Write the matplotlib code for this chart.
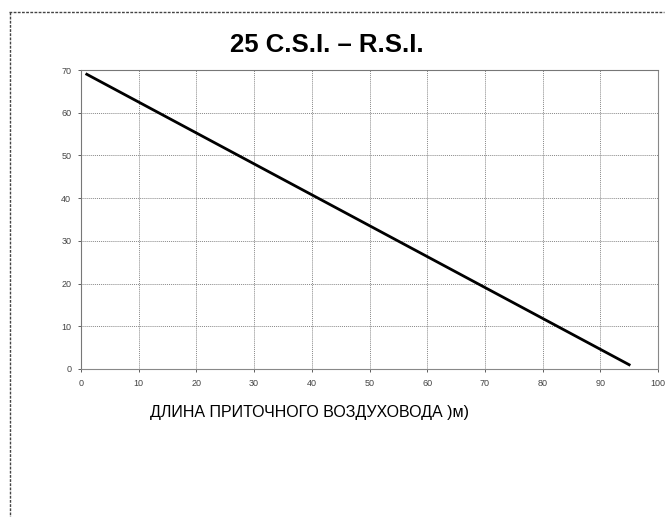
import matplotlib.pyplot as plt
from matplotlib.lines import Line2D

# line
length_m = [1, 95]
value = [69, 1]
x_ticks = [0, 10, 20, 30, 40, 50, 60, 70, 80, 90, 100]
y_ticks = [0, 10, 20, 30, 40, 50, 60, 70]

plt.rcParams['font.family'] = ['Liberation Sans', 'DejaVu Sans']

fig = plt.figure(figsize=(6.67, 5.17), dpi=100)
ax = fig.add_axes([81 / 667, 1 - 369 / 517, (658 - 81) / 667, (369 - 70) / 517])

ax.plot(length_m, value, color='black', linewidth=2)

ax.set_xlim(0, 100)
ax.set_ylim(0, 70)
ax.set_xticks(x_ticks)
ax.set_yticks(y_ticks)
ax.tick_params(labelsize=6.5, colors='#444444', length=2, width=0.6, pad=5)
ax.grid(True, color='#888888', linestyle=(0, (1, 1)), linewidth=0.7)
for side in ['left', 'top']:
    ax.spines[side].set_color('#777777')
    ax.spines[side].set_linewidth(0.8)
for side in ['right', 'bottom']:
    ax.spines[side].set_color('#888888')
    ax.spines[side].set_linestyle((0, (1, 1)))
    ax.spines[side].set_linewidth(0.8)

fig.text(327 / 667, 1 - 45 / 517, '25 C.S.I. – R.S.I.', ha='center', va='center',
         fontsize=18.5, fontweight='bold')
fig.text(310 / 667, 1 - 413 / 517, 'ДЛИНА ПРИТОЧНОГО ВОЗДУХОВОДА )м)', ha='center',
         va='center', fontsize=11.5)

# outer frame (top and left only)
fig.add_artist(Line2D([9 / 667, 664 / 667], [1 - 12 / 517, 1 - 12 / 517],
                      transform=fig.transFigure, color='#444444', linewidth=1.0,
                      linestyle=(0, (2, 1))))
fig.add_artist(Line2D([10 / 667, 10 / 667], [1 - 12 / 517, 0],
                      transform=fig.transFigure, color='#444444', linewidth=1.0,
                      linestyle=(0, (2, 1))))

fig.savefig('out.png', dpi=100)
